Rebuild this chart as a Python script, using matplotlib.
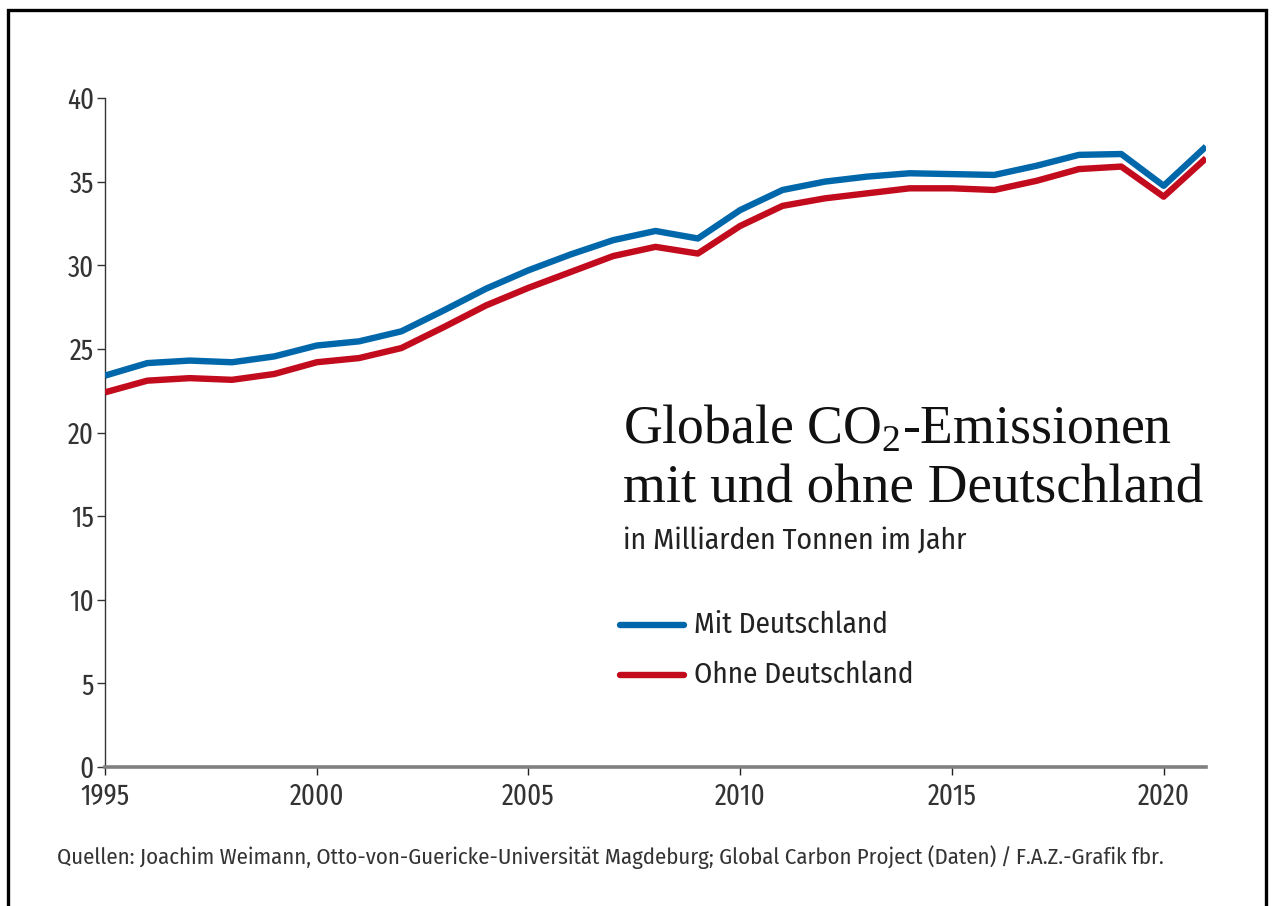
import matplotlib
matplotlib.use('Agg')
import matplotlib.pyplot as plt
from matplotlib.lines import Line2D

# Globale CO2-Emissionen in Mrd. Tonnen
years = list(range(1995, 2022))
mit_de = [23.4, 24.15, 24.3, 24.2, 24.55, 25.2, 25.45, 26.05, 27.3, 28.6,
          29.7, 30.65, 31.5, 32.05, 31.6, 33.3, 34.5, 35.0, 35.3, 35.5,
          35.45, 35.4, 35.95, 36.6, 36.65, 34.75, 37.1]
ohne_de = [22.4, 23.1, 23.25, 23.15, 23.5, 24.2, 24.45, 25.05, 26.3, 27.6,
           28.65, 29.6, 30.55, 31.1, 30.7, 32.35, 33.55, 34.0, 34.3, 34.6,
           34.6, 34.5, 35.05, 35.75, 35.9, 34.1, 36.4]
xticks = [1995, 2000, 2005, 2010, 2015, 2020]
yticks = [0, 5, 10, 15, 20, 25, 30, 35, 40]

BLUE = '#0067ab'
RED = '#c30b1e'

xcond = ['Fira Sans Extra Condensed', 'DejaVu Sans']
cond = ['Fira Sans Condensed', 'DejaVu Sans']
serif = 'Liberation Serif'

plt.rcParams['mathtext.fontset'] = 'custom'
plt.rcParams['mathtext.rm'] = serif

fig = plt.figure(figsize=(12.72, 9.06), dpi=100)
ax = fig.add_axes([105/1272, 1 - 767/906, (1206 - 105)/1272, (767 - 98)/906])

ax.plot(years, mit_de, color=BLUE, lw=4.6, solid_capstyle='butt', zorder=3)
ax.plot(years, ohne_de, color=RED, lw=4.6, solid_capstyle='butt', zorder=3)

ax.set_xlim(1995, 2021)
ax.set_ylim(0, 40)
ax.set_xticks(xticks)
ax.set_yticks(yticks)

for s in ['top', 'right']:
    ax.spines[s].set_visible(False)
ax.spines['left'].set_color('#333333')
ax.spines['left'].set_linewidth(1.0)
ax.spines['bottom'].set_color('#808080')
ax.spines['bottom'].set_linewidth(2.6)
ax.spines['bottom'].set_zorder(4)

ax.tick_params(axis='y', length=6, width=1, color='#333333', pad=2,
               labelsize=21, labelcolor='#333333')
ax.tick_params(axis='x', length=6, width=1, color='#222222', pad=5,
               labelsize=21, labelcolor='#333333')
for lbl in ax.get_xticklabels() + ax.get_yticklabels():
    lbl.set_family(xcond)

# Titel und Legende im Diagramm
fig.text(623/1272, 1 - 443/906, r'Globale CO$_\mathregular{2}$-Emissionen',
         family=serif, fontsize=38.7, color='#111111', va='baseline')
fig.text(623/1272, 1 - 503/906, 'mit und ohne Deutschland',
         family=serif, fontsize=39.7, color='#111111', va='baseline')
fig.text(623/1272, 1 - 549/906, 'in Milliarden Tonnen im Jahr',
         family=cond, fontsize=21.4, color='#222222', va='baseline')

legend_items = [('Mit Deutschland', BLUE, 625), ('Ohne Deutschland', RED, 675)]
for label, col, ypx in legend_items:
    y = 1 - ypx/906
    fig.add_artist(Line2D([620/1272, 684/1272], [y, y], color=col, lw=4.6,
                          solid_capstyle='round'))
    fig.text(694/1272, y, label, family=cond, fontsize=21, color='#222222',
             va='center')

fig.text(57/1272, 1 - 864/906,
         'Quellen: Joachim Weimann, Otto-von-Guericke-Universität Magdeburg; '
         'Global Carbon Project (Daten)\u2009/\u2009F.A.Z.-Grafik fbr.',
         family=cond, fontsize=16.4, color='#333333', va='baseline')

# Rahmen
fx = [8/1272, 8/1272, 1266/1272, 1266/1272]
fy = [0, 1 - 10/906, 1 - 10/906, 0]
fig.add_artist(Line2D(fx, fy, color='black', lw=2.4, solid_joinstyle='miter'))

fig.savefig('out.png', dpi=100)
